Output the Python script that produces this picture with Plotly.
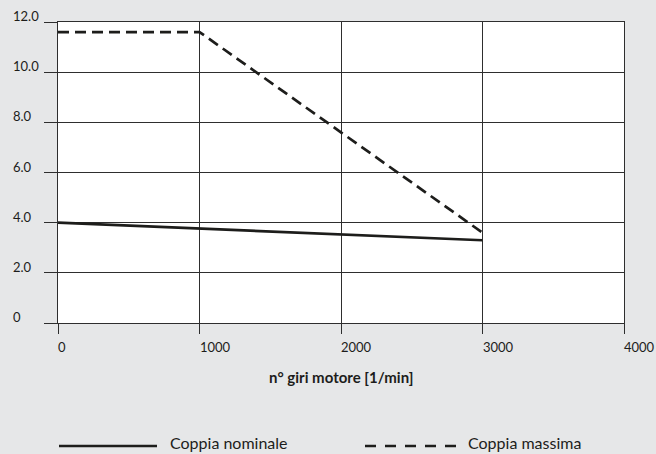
import plotly.graph_objects as go

# ---- data ----
speed_nom = [0, 1000, 2000, 3000]
torque_nom = [4.0, 3.77, 3.53, 3.3]
speed_max = [0, 1000, 3000]
torque_max = [11.6, 11.6, 3.6]

x_ticks = [0, 1000, 2000, 3000, 4000]
x_tick_labels = ["0", "1000", "2000", "3000", "4000"]
y_ticks = [0, 2, 4, 6, 8, 10, 12]
y_tick_labels = ["0", "2.0", "4.0", "6.0", "8.0", "10.0", "12.0"]

x_title = "n° giri motore [1/min]"
legend_names = ["Coppia nominale", "Coppia massima"]

# ---- layout constants ----
W, H = 656, 454
ML, MR, MT, MB = 58, 32, 22, 131
PW = W - ML - MR
PH = H - MT - MB
INK = "#1d1d1b"
GRID = "#2e2e2e"
BG = "#e6e7e8"
FONT = "Lato"

def px_x(p):
    return (p - ML) / PW

def px_y(p):
    return (H - MB - p) / PH

fig = go.Figure()
fig.add_trace(go.Scatter(x=speed_nom, y=torque_nom, mode="lines",
                         line=dict(color=INK, width=2.7), showlegend=False,
                         name=legend_names[0]))
fig.add_trace(go.Scatter(x=speed_max, y=torque_max, mode="lines",
                         line=dict(color=INK, width=2.7, dash="11px,6px"),
                         showlegend=False, name=legend_names[1]))

annotations = []
for v, t in zip(y_ticks, y_tick_labels):
    annotations.append(dict(x=px_x(11), xref="paper", y=v, yref="y", text=t,
                            showarrow=False, xanchor="left", yanchor="middle",
                            yshift=6, font=dict(family=FONT, size=13, color=INK)))
for v, t in zip(x_ticks, x_tick_labels):
    annotations.append(dict(x=v, xref="x", y=px_y(347), yref="paper", text=t,
                            showarrow=False, xanchor="left", yanchor="middle",
                            xshift=-2, font=dict(family=FONT, size=13, color=INK)))
annotations.append(dict(x=0.5, xref="paper", y=px_y(377), yref="paper",
                        text="<b>" + x_title + "</b>", showarrow=False,
                        xanchor="center", yanchor="middle",
                        font=dict(family=FONT, size=15, color=INK)))

# legend (manual)
leg_y = px_y(446)
shapes = [
    dict(type="line", xref="paper", yref="paper", x0=px_x(59), x1=px_x(157),
         y0=leg_y, y1=leg_y, line=dict(color=INK, width=2.7)),
    dict(type="line", xref="paper", yref="paper", x0=px_x(365), x1=px_x(460),
         y0=leg_y, y1=leg_y, line=dict(color=INK, width=2.7, dash="11px,9px")),
]
annotations.append(dict(x=px_x(168), xref="paper", y=leg_y, yref="paper",
                        text=legend_names[0], showarrow=False, xanchor="left",
                        yanchor="middle", yshift=3,
                        font=dict(family=FONT, size=16, color=INK)))
annotations.append(dict(x=px_x(466), xref="paper", y=leg_y, yref="paper",
                        text=legend_names[1], showarrow=False, xanchor="left",
                        yanchor="middle", yshift=3,
                        font=dict(family=FONT, size=16, color=INK)))

fig.update_layout(
    width=W, height=H,
    margin=dict(l=ML, r=MR, t=MT, b=MB, pad=0),
    paper_bgcolor=BG, plot_bgcolor="white",
    showlegend=False,
    annotations=annotations, shapes=shapes,
    xaxis=dict(range=[0, 4000], tickvals=x_ticks, showticklabels=False,
               ticks="outside", ticklen=10, tickcolor=GRID, tickwidth=1,
               showgrid=True, gridcolor=GRID, gridwidth=1,
               showline=True, linecolor=GRID, linewidth=1, mirror=True,
               zeroline=False, fixedrange=True),
    yaxis=dict(range=[0, 12], tickvals=y_ticks, showticklabels=False,
               ticks="outside", ticklen=13, tickcolor=GRID, tickwidth=1,
               showgrid=True, gridcolor=GRID, gridwidth=1,
               showline=True, linecolor=GRID, linewidth=1, mirror=True,
               zeroline=False, fixedrange=True),
)

fig.write_html("out.html", config={"displayModeBar": False},
               post_script="document.body.style.margin='0';document.body.style.overflow='hidden';")
